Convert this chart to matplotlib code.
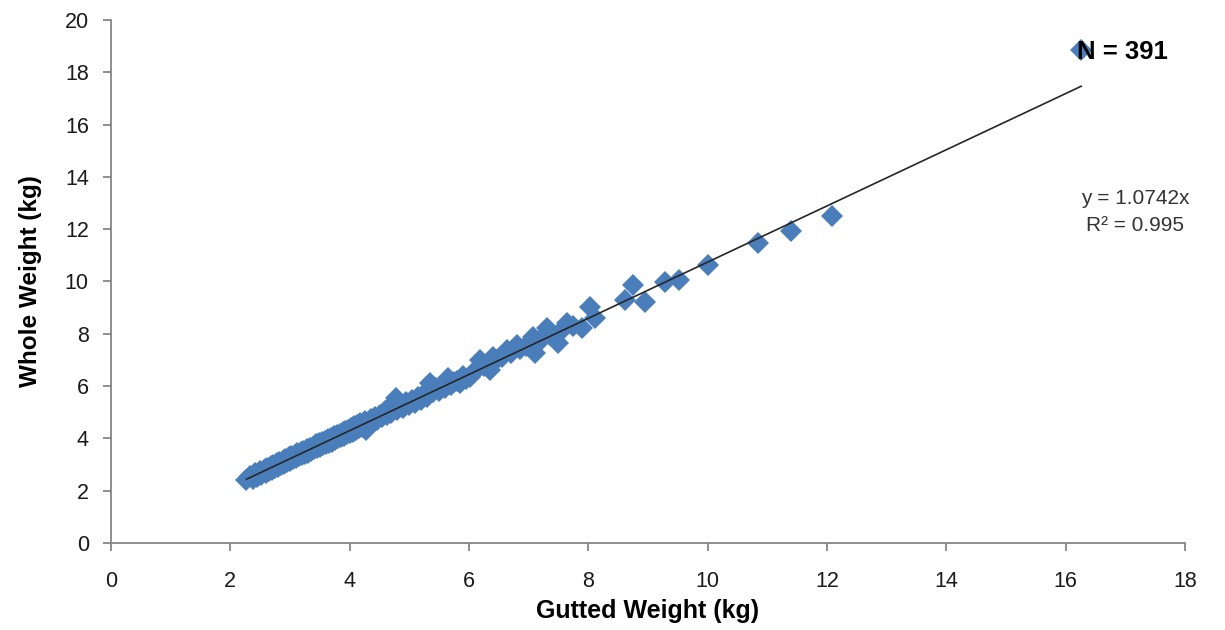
import numpy as np
import matplotlib
matplotlib.use("Agg")
import matplotlib.pyplot as plt

plt.rcParams['font.family'] = ['Liberation Sans', 'DejaVu Sans']

# Gutted vs whole weight (kg)
gutted = [2.27, 2.33, 2.38, 2.42, 2.45, 2.50, 2.52, 2.55, 2.58, 2.60,
          2.62, 2.65, 2.68, 2.70, 2.72, 2.75, 2.78, 2.80, 2.82, 2.85,
          2.88, 2.90, 2.92, 2.95, 2.98, 3.00, 3.02, 3.05, 3.08, 3.10,
          3.12, 3.15, 3.18, 3.20, 3.22, 3.25, 3.28, 3.30, 3.33, 3.35,
          3.38, 3.40, 3.43, 3.45, 3.48, 3.50, 3.53, 3.55, 3.58, 3.60,
          3.63, 3.65, 3.68, 3.70, 3.73, 3.75, 3.78, 3.80, 3.83, 3.85,
          3.88, 3.90, 3.93, 3.95, 3.98, 4.00, 4.03, 4.05, 4.08, 4.10,
          4.13, 4.15, 4.18, 4.20, 4.25, 4.27, 4.30, 4.35, 4.40, 4.42,
          4.45, 4.50, 4.55, 4.60, 4.63, 4.65, 4.70, 4.75, 4.78, 4.80,
          4.85, 4.90, 4.95, 5.00, 5.05, 5.10, 5.15, 5.20, 5.25, 5.30,
          5.35, 5.40, 5.45, 5.50, 5.55, 5.60, 5.65, 5.70, 5.75, 5.80,
          5.85, 5.90, 5.95, 6.02, 6.08, 6.15, 6.18, 6.25, 6.30, 6.35,
          6.40, 6.45, 6.55, 6.63, 6.70, 6.80, 6.85, 6.95, 7.07, 7.10,
          7.14, 7.20, 7.31, 7.35, 7.49, 7.55, 7.64, 7.75, 7.89, 8.03,
          8.11, 8.61, 8.75, 8.95, 9.28, 9.52, 10.00, 10.84, 11.40, 12.08,
          16.26]
whole = [2.41, 2.57, 2.45, 2.68, 2.53, 2.74, 2.60, 2.70, 2.82, 2.68,
         2.88, 2.76, 2.94, 2.80, 2.98, 2.86, 3.05, 2.91, 3.10, 2.98,
         3.15, 3.03, 3.20, 3.08, 3.27, 3.13, 3.31, 3.20, 3.38, 3.25,
         3.43, 3.31, 3.48, 3.36, 3.53, 3.42, 3.61, 3.46, 3.65, 3.53,
         3.69, 3.58, 3.77, 3.62, 3.83, 3.68, 3.87, 3.74, 3.91, 3.80,
         3.98, 3.84, 4.03, 3.88, 4.08, 3.94, 4.13, 4.00, 4.17, 4.04,
         4.23, 4.10, 4.29, 4.16, 4.33, 4.20, 4.39, 4.26, 4.47, 4.32,
         4.51, 4.38, 4.58, 4.43, 4.65, 4.32, 4.58, 4.75, 4.66, 4.83,
         4.72, 4.91, 4.80, 5.03, 4.90, 5.11, 4.98, 5.17, 5.55, 5.08,
         5.27, 5.18, 5.38, 5.26, 5.48, 5.36, 5.58, 5.48, 5.69, 5.58,
         6.10, 5.76, 5.92, 5.83, 6.02, 5.93, 6.30, 6.06, 6.17, 6.20,
         6.10, 6.37, 6.28, 6.35, 6.55, 6.70, 7.00, 6.75, 6.85, 6.62,
         7.11, 7.00, 7.10, 7.38, 7.25, 7.57, 7.40, 7.55, 7.88, 7.27,
         7.60, 7.80, 8.22, 7.95, 7.65, 8.10, 8.41, 8.30, 8.22, 9.02,
         8.60, 9.29, 9.85, 9.20, 9.98, 10.06, 10.63, 11.48, 11.92, 12.52,
         18.85]

slope = 1.0742
r2 = 0.995
n_fish = 391

blue = '#4A7EBB'
axis_grey = '#868686'

fig = plt.figure(figsize=(12.25, 6.3), dpi=100)
ax = fig.add_axes([111 / 1225, 87 / 630, 1074 / 1225, 523 / 630])

ax.plot(gutted, whole, linestyle='none', marker='D', markersize=11,
        color=blue, markeredgewidth=0, zorder=2)

# trendline through origin over data range
xs = np.array([min(gutted), max(gutted)])
ax.plot(xs, slope * xs, color='#262626', linewidth=1.2, zorder=3)

ax.set_xlim(0, 18)
ax.set_ylim(0, 20)
ax.set_xticks(np.arange(0, 19, 2))
ax.set_yticks(np.arange(0, 21, 2))

for side in ['top', 'right']:
    ax.spines[side].set_visible(False)
for side in ['left', 'bottom']:
    ax.spines[side].set_color(axis_grey)
    ax.spines[side].set_linewidth(1.3)
ax.tick_params(direction='out', length=6, width=1.3, color=axis_grey,
               labelsize=15.5, labelcolor='#1a1a1a')
ax.tick_params(axis='x', pad=14)
ax.tick_params(axis='y', pad=10)

ax.set_xlabel('Gutted Weight (kg)', fontsize=18, fontweight='bold', labelpad=5)
ax.set_ylabel('Whole Weight (kg)', fontsize=17.5, fontweight='bold', labelpad=16)

ax.text(16.95, 18.78, f'N = {n_fish}', fontsize=18.5, fontweight='bold',
        ha='center', va='center', zorder=4, clip_on=False)
ax.text(17.16, 12.65, f'y = {slope}x\nR² = {r2}', fontsize=15, color='#333333',
        ha='center', va='center', multialignment='center', linespacing=1.5,
        clip_on=False)

fig.savefig('out.png', dpi=100)
